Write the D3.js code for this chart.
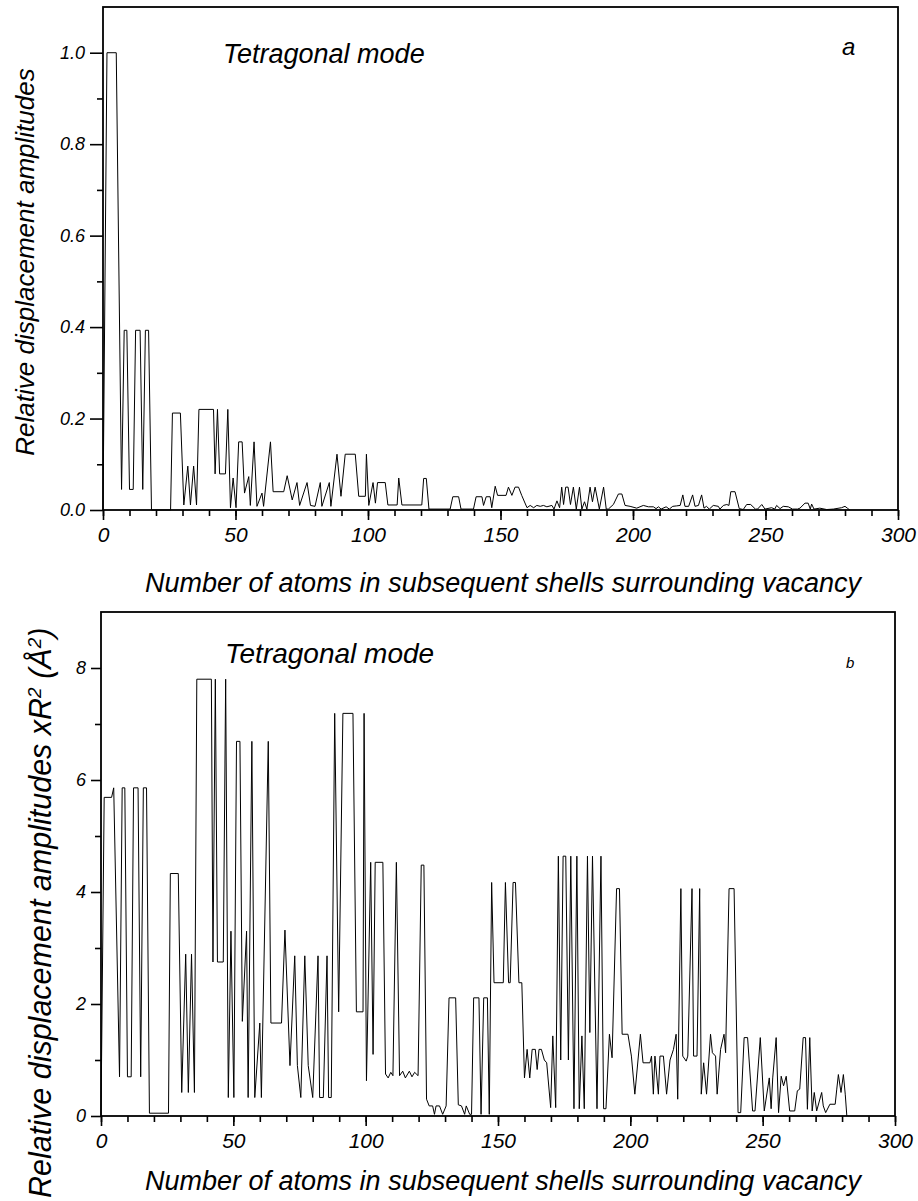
<!DOCTYPE html>
<html>
<head>
<meta charset="utf-8">
<script src="https://cdn.jsdelivr.net/npm/d3@7"></script>
<style>
  body { margin: 0; background: #fff; }
  svg text { font-family: "Liberation Sans", Arial, sans-serif; font-style: italic; fill: #000; }
</style>
</head>
<body>
<script>
// ---- data (atom index, value) ----
let topX = [0, 1.5, 5, 7, 8, 9, 10, 11.4, 12.3, 14, 15, 16, 17.2, 18.3, 25.5, 26.2, 29.2, 30.5, 32, 33,
  34.2, 35.3, 36.2, 41.7, 42.3, 43.2, 44, 46.2, 47.1, 48.1, 49.1, 50.2, 51.2, 52.5, 53.4, 55, 55.6, 57, 58.1, 60,
  60.6, 63.2, 64.2, 68.2, 69.5, 71.4, 73.2, 74.2, 77, 78.3, 80, 82, 82.6, 85.4, 86, 88.3, 89.8, 91.4, 95.2, 96.5,
  99, 99.4, 100.3, 101.9, 102.8, 103.6, 106.5, 107.5, 111, 111.6, 112.8, 120.3, 121, 122, 123, 131, 132, 134.2, 135.1, 139.8,
  140.8, 143, 143.6, 144.6, 146.1, 146.7, 148, 148.9, 152.1, 153, 154.3, 155.5, 156.8, 158, 160, 161.2, 162.5, 163.7, 165, 166.2,
  167.5, 169.4, 170.2, 171.3, 172.3, 173.1, 173.8, 174.6, 175.5, 176.4, 177.5, 178.6, 179.8, 180.7, 181.7, 182.6, 183.8, 184.7, 185.7, 187.3,
  188.9, 189.9, 190.7, 192.6, 194.5, 195.8, 197, 198.9, 201.4, 203.9, 205.8, 207.7, 208.7, 209.6, 210.6, 212.5, 213.7, 215, 216.5, 217.8,
  218.8, 219.6, 221, 222.5, 223.4, 224.7, 225.9, 226.8, 227.7, 228.8, 230.3, 232.2, 232.8, 234.1, 235.4, 236.2, 236.9, 238.5, 240.1, 241.6,
  242.9, 244.4, 246.2, 247, 248.6, 249.8, 252.3, 253.5, 254.2, 255.5, 256.7, 258.6, 260.2, 262.1, 263, 264.9, 266.1, 266.9, 267.4, 268.3,
  270.5, 273.1, 275.6, 278.7, 280, 280.9, 281.8];
let topY = [0, 1.0, 1.0, 0.045, 0.393, 0.393, 0.045, 0.045, 0.393, 0.393, 0.045, 0.393, 0.393, 0, 0, 0.212, 0.212, 0.011, 0.096, 0.011,
  0.096, 0.011, 0.22, 0.22, 0.079, 0.22, 0.079, 0.079, 0.22, 0.005, 0.07, 0.005, 0.149, 0.149, 0.037, 0.073, 0.01, 0.149, 0.008, 0.037,
  0.008, 0.149, 0.04, 0.04, 0.075, 0.022, 0.06, 0.01, 0.06, 0.01, 0.008, 0.06, 0.008, 0.06, 0.008, 0.122, 0.03, 0.122, 0.122, 0.03,
  0.03, 0.122, 0.01, 0.06, 0.015, 0.06, 0.06, 0.011, 0.011, 0.07, 0.011, 0.011, 0.069, 0.069, 0.002, 0.002, 0.029, 0.029, 0.002, 0.002,
  0.029, 0.029, 0.01, 0.029, 0.029, 0.005, 0.052, 0.032, 0.032, 0.05, 0.032, 0.05, 0.05, 0.032, 0.005, 0.01, 0.005, 0.01, 0.008, 0.01,
  0.007, 0.01, 0.002, 0.02, 0.005, 0.05, 0.012, 0.05, 0.05, 0.012, 0.05, 0.002, 0.05, 0.002, 0.018, 0.002, 0.05, 0.018, 0.05, 0.002,
  0.05, 0.002, 0.002, 0.012, 0.035, 0.035, 0.01, 0.008, 0.004, 0.01, 0.007, 0.007, 0.003, 0.007, 0.002, 0.007, 0.002, 0.008, 0.009, 0.01,
  0.033, 0.008, 0.008, 0.033, 0.008, 0.01, 0.033, 0.004, 0.008, 0.002, 0.01, 0.008, 0.002, 0.01, 0.012, 0.01, 0.04, 0.04, 0.003, 0.001,
  0.012, 0.012, 0.002, 0.002, 0.012, 0.002, 0.005, 0.002, 0.01, 0.003, 0.008, 0.007, 0.002, 0.002, 0.004, 0.015, 0.015, 0.002, 0.013, 0.002,
  0.004, 0.001, 0.002, 0.005, 0.008, 0.004, 0];

let botX = [0, 1.2, 4, 4.8, 7, 8, 9, 10, 11.4, 12.3, 14, 15, 16, 17.2, 18.3, 25.5, 26.2, 29.2, 30.5, 32,
  33, 34.2, 35.3, 36.2, 41.7, 42.3, 43.2, 44, 46.2, 47.1, 48.1, 49.1, 50.2, 51.2, 52.5, 53.4, 55, 55.6, 57, 58.1,
  60, 60.6, 63.2, 64.2, 68.2, 69.5, 71.4, 73.2, 74.2, 75.5, 77, 78.3, 80, 82, 82.6, 84, 85.4, 86, 87, 88.3,
  89.8, 91.4, 95.2, 96.5, 99, 99.4, 100.3, 101.9, 102.8, 103.6, 106.5, 107.5, 108.5, 109.5, 110.3, 111.6, 112.8, 114, 115, 116.5,
  117.5, 118.5, 119.8, 121, 122, 123, 124, 125.3, 126, 126.6, 127.9, 129.1, 130.4, 131.5, 134, 135, 136.2, 137.4, 138, 139.3,
  140, 140.8, 142.8, 143.6, 144.6, 146, 146.7, 147.6, 148.5, 152, 152.8, 154, 154.6, 155.7, 156.6, 157.9, 159, 160, 161, 162,
  162.9, 164.1, 164.8, 165.5, 166.4, 167.5, 168.4, 169.9, 170.7, 171.8, 172.8, 173.7, 174.6, 175.6, 176.6, 177.5, 178.7, 179.8, 180.7, 181.7,
  182.6, 183.8, 184.7, 185.7, 187.4, 188.9, 189.9, 190.8, 192.1, 193.1, 194.8, 195.9, 196.9, 199.1, 200.4, 201.7, 203.8, 204.8, 207.4, 208,
  208.7, 209.3, 210.6, 211.2, 212.5, 213.7, 215, 216.3, 217.3, 217.9, 219.1, 219.8, 221.1, 221.7, 223.3, 223.9, 225.2, 226.2, 226.8, 227.7,
  228.8, 230.3, 231, 232.2, 232.8, 234.1, 235.4, 236, 237.3, 239.2, 240.7, 241.7, 243, 244.3, 246.2, 247.1, 249.1, 250.6, 252.5, 253.2,
  253.8, 255.1, 256, 257, 257.9, 258.9, 260.2, 262.1, 263.1, 264, 265.3, 266.2, 266.9, 267.8, 268.7, 269.5, 270.4, 272.3, 272.9, 273.8,
  275.4, 277.4, 278, 278.6, 279.6, 280.5, 281.2, 281.8];
let botY = [0, 5.69, 5.69, 5.86, 0.7, 5.86, 5.86, 0.7, 0.7, 5.86, 5.86, 0.7, 5.86, 5.86, 0.05, 0.05, 4.33, 4.33, 0.42, 2.89,
  0.42, 2.89, 0.42, 7.8, 7.8, 2.75, 7.8, 2.75, 2.75, 7.8, 0.33, 3.3, 0.33, 6.69, 6.69, 1.69, 3.3, 0.33, 6.69, 0.33,
  1.66, 0.33, 6.69, 1.66, 1.66, 3.32, 0.9, 2.86, 0.9, 0.33, 2.86, 0.9, 0.33, 2.86, 0.33, 0.33, 2.86, 0.33, 0.33, 7.19,
  1.86, 7.19, 7.19, 1.86, 1.86, 7.19, 0.63, 4.53, 1.1, 4.53, 4.53, 0.75, 0.68, 0.78, 0.72, 4.53, 0.72, 0.8, 0.68, 0.8,
  0.7, 0.78, 0.72, 4.48, 4.48, 0.3, 0.18, 0.18, 0.03, 0.18, 0.18, 0.03, 0.18, 2.11, 2.11, 0.2, 0.18, 0.03, 0.18, 0.03,
  0.03, 2.11, 2.11, 0.03, 2.11, 2.11, 0.03, 4.17, 2.38, 2.38, 4.17, 2.38, 2.38, 4.17, 4.17, 2.38, 2.38, 0.68, 1.19, 0.68,
  1.19, 1.19, 0.83, 1.19, 1.19, 1.0, 0.95, 0.15, 1.43, 0.15, 4.64, 1.0, 4.64, 4.64, 1.0, 4.64, 0.13, 4.64, 0.13, 1.43,
  0.13, 4.64, 1.49, 4.64, 0.13, 4.64, 0.13, 0.13, 1.46, 1.04, 4.06, 4.06, 1.46, 1.46, 1.07, 0.39, 1.46, 0.95, 0.95, 1.07,
  0.39, 1.07, 0.39, 1.07, 1.07, 0.39, 1.0, 1.19, 1.46, 0.3, 4.06, 1.07, 0.98, 1.07, 4.06, 1.07, 1.07, 4.06, 0.39, 0.95,
  0.39, 1.46, 1.13, 1.07, 0.39, 1.19, 1.46, 1.13, 4.06, 4.06, 0.06, 0.06, 1.4, 1.4, 0.09, 0.09, 1.4, 0.09, 0.68, 0.13,
  0.68, 1.4, 0.06, 0.71, 0.54, 0.71, 0.09, 0.09, 0.45, 0.48, 1.4, 1.4, 0.12, 1.4, 0.09, 0.42, 0.09, 0.42, 0.18, 0.06,
  0.21, 0.21, 0.48, 0.74, 0.42, 0.74, 0.39, 0];

let xTicks = [0, 50, 100, 150, 200, 250, 300];
let topYTicks = [0, 0.2, 0.4, 0.6, 0.8, 1.0];
let botYTicks = [0, 2, 4, 6, 8];

let svg = d3.select('body').append('svg')
  .attr('width', 918)
  .attr('height', 1201);

function drawPanel(cfg) {
  let x = d3.scaleLinear().domain([0, 300]).range([cfg.left, cfg.right]);
  let y = d3.scaleLinear().domain([0, cfg.ymax]).range([cfg.bottom, cfg.top]);
  let g = svg.append('g');

  // minor ticks first
  g.append('g')
    .attr('transform', `translate(0,${cfg.bottom})`)
    .call(d3.axisBottom(x).tickValues(d3.range(0, 301, 10)).tickSize(6).tickFormat(''))
    .call(a => a.select('.domain').remove());
  g.append('g')
    .attr('transform', `translate(${cfg.left},0)`)
    .call(d3.axisLeft(y).tickValues(cfg.minor).tickSize(6).tickFormat(''))
    .call(a => a.select('.domain').remove());

  // major ticks + labels
  g.append('g')
    .attr('transform', `translate(0,${cfg.bottom})`)
    .call(d3.axisBottom(x).tickValues(xTicks).tickSize(10).tickPadding(7).tickSizeOuter(0))
    .call(a => a.select('.domain').remove())
    .selectAll('text').style('font-size', '21px');
  g.append('g')
    .attr('transform', `translate(${cfg.left},0)`)
    .call(d3.axisLeft(y).tickValues(cfg.ticks).tickSize(cfg.tick).tickPadding(5).tickFormat(cfg.fmt).tickSizeOuter(0))
    .call(a => a.select('.domain').remove())
    .selectAll('text').style('font-size', cfg.yFont);

  g.selectAll('.tick line').attr('stroke', '#000').attr('stroke-width', 1.6);

  // frame
  g.append('rect')
    .attr('x', cfg.left).attr('y', cfg.top)
    .attr('width', cfg.right - cfg.left).attr('height', cfg.bottom - cfg.top)
    .attr('fill', 'none').attr('stroke', '#000').attr('stroke-width', 1.8);

  let line = d3.line()
    .x((d, i) => x(cfg.xs[i]))
    .y(d => y(d));
  g.append('path')
    .attr('d', line(cfg.ys))
    .attr('fill', 'none')
    .attr('stroke', '#000')
    .attr('stroke-width', 1);
  return {x, y, g};
}

let pa = drawPanel({left: 103, right: 898, top: 7, bottom: 510, ymax: 1.1,
  ticks: topYTicks, minor: [0.1, 0.3, 0.5, 0.7, 0.9], tick: 13, fmt: d3.format('.1f'), yFont: '18px',
  xs: topX, ys: topY});
let pb = drawPanel({left: 101, right: 895, top: 612, bottom: 1116, ymax: 9,
  ticks: botYTicks, minor: [1, 3, 5, 7], tick: 10, fmt: d3.format('d'), yFont: '18px',
  xs: botX, ys: botY});

// panel a texts
svg.append('text').attr('x', 223).attr('y', 63).style('font-size', '27px').text('Tetragonal mode');
svg.append('text').attr('x', 842).attr('y', 55).style('font-size', '24px').text('a');
svg.append('text')
  .attr('transform', 'translate(34,262) rotate(-90)')
  .attr('text-anchor', 'middle')
  .style('font-size', '26px')
  .text('Relative displacement amplitudes');
svg.append('text').attr('x', 503).attr('y', 592).attr('text-anchor', 'middle')
  .style('font-size', '27px')
  .text('Number of atoms in subsequent shells surrounding vacancy');

// panel b texts
svg.append('text').attr('x', 225).attr('y', 663).style('font-size', '28px').text('Tetragonal mode');
svg.append('text').attr('x', 846).attr('y', 668).style('font-size', '15px').text('b');
let yb = svg.append('text')
  .attr('transform', 'translate(51,1198) rotate(-90)')
  .style('font-size', '30.5px');
yb.append('tspan').text('Relative displacement amplitudes xR');
yb.append('tspan').attr('baseline-shift', 'super').style('font-size', '19px').text('2');
yb.append('tspan').text(' (Å');
yb.append('tspan').attr('baseline-shift', 'super').style('font-size', '19px').text('2');
yb.append('tspan').text(')');
svg.append('text').attr('x', 503).attr('y', 1190).attr('text-anchor', 'middle')
  .style('font-size', '27px')
  .text('Number of atoms in subsequent shells surrounding vacancy');
</script>
</body>
</html>
